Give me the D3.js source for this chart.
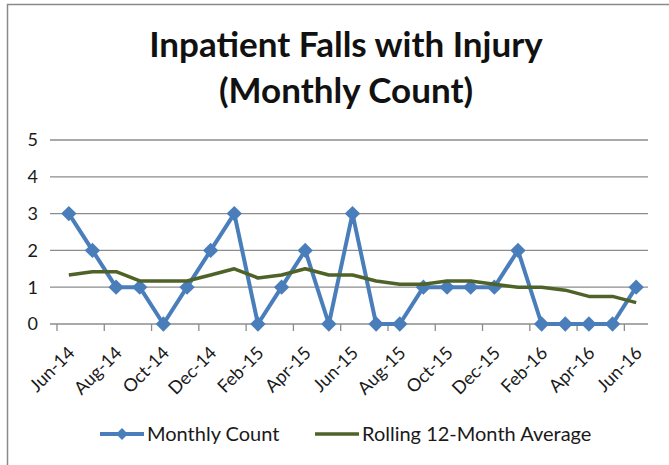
<!DOCTYPE html>
<html>
<head>
<meta charset="utf-8">
<script src="https://cdn.jsdelivr.net/npm/d3@7"></script>
<style>
  body { margin: 0; background: #fff; }
  svg { display: block; font-family: Lato, "Open Sans", sans-serif; }
  .grid line { stroke: #8c8c8c; stroke-width: 1.3; }
  .tick-lab { font-size: 18px; fill: #1a1a1a; }
</style>
</head>
<body>
<svg width="669" height="465"></svg>
<script>
// chart values
const months = ["Jun-14","Jul-14","Aug-14","Sep-14","Oct-14","Nov-14","Dec-14",
  "Jan-15","Feb-15","Mar-15","Apr-15","May-15","Jun-15","Jul-15","Aug-15","Sep-15",
  "Oct-15","Nov-15","Dec-15","Jan-16","Feb-16","Mar-16","Apr-16","May-16","Jun-16"];
const monthly = [3,2,1,1,0,1,2,3,0,1,2,0,3,0,0,1,1,1,1,2,0,0,0,0,1];
const rolling = [1.33,1.42,1.42,1.17,1.17,1.17,1.33,1.5,1.25,1.33,1.5,1.33,
  1.33,1.17,1.08,1.08,1.17,1.17,1.08,1.0,1.0,0.92,0.75,0.75,0.58];
const yTicks = [0,1,2,3,4,5];
const xLabels = months.filter((d, i) => i % 2 === 0);
const titleLines = ["Inpatient Falls with Injury", "(Monthly Count)"];
const seriesNames = ["Monthly Count", "Rolling 12-Month Average"];

const svg = d3.select("svg");

// outer chart border (only top & left are inside the frame)
svg.append("rect")
    .attr("x", 7.5).attr("y", 4.5)
    .attr("width", 700).attr("height", 500)
    .attr("fill", "none")
    .attr("stroke", "#8a8a8a")
    .attr("stroke-width", 1.5);

const x = d3.scaleBand().domain(months).range([57, 648]);
const y = d3.scaleLinear().domain([0, 5]).range([324, 140]);
const cx = d => x(d) + x.bandwidth() / 2;

// title
svg.append("g").selectAll("text")
  .data(titleLines)
  .join("text")
    .attr("x", 346)
    .attr("y", (d, i) => 57 + i * 46)
    .attr("text-anchor", "middle")
    .attr("font-size", 35)
    .attr("font-weight", "bold")
    .attr("fill", "#111")
    .text(d => d);

// gridlines + y labels
const grid = svg.append("g").attr("class", "grid");
grid.selectAll("line")
  .data(yTicks)
  .join("line")
    .attr("x1", 50).attr("x2", 648)
    .attr("y1", d => y(d)).attr("y2", d => y(d));

svg.append("g").selectAll("text")
  .data(yTicks)
  .join("text")
    .attr("class", "tick-lab")
    .attr("x", 38)
    .attr("y", d => y(d))
    .attr("dy", "0.36em")
    .attr("text-anchor", "end")
    .text(d => d);

// x tick marks every 2 months, at category edges
svg.append("g").attr("class", "grid").selectAll("line")
  .data(xLabels)
  .join("line")
    .attr("x1", d => x(d)).attr("x2", d => x(d))
    .attr("y1", 324).attr("y2", 331);

svg.append("g").selectAll("text")
  .data(xLabels)
  .join("text")
    .attr("class", "tick-lab")
    .attr("text-anchor", "end")
    .attr("transform", d => `translate(${cx(d) + 7},354) rotate(-45)`)
    .text(d => d);

// series
const line = d3.line().x((d, i) => cx(months[i])).y(d => y(d));

svg.append("path")
    .datum(monthly)
    .attr("fill", "none")
    .attr("stroke", "#4a7ebb")
    .attr("stroke-width", 4)
    .attr("stroke-linejoin", "round")
    .attr("d", line);

const diamond = d3.symbol().type(d3.symbolDiamond2).size(150);
svg.append("g").selectAll("path")
  .data(monthly)
  .join("path")
    .attr("transform", (d, i) => `translate(${cx(months[i])},${y(d)})`)
    .attr("d", diamond)
    .attr("fill", "#4a7ebb");

svg.append("path")
    .datum(rolling)
    .attr("fill", "none")
    .attr("stroke", "#4f6228")
    .attr("stroke-width", 3.5)
    .attr("stroke-linejoin", "round")
    .attr("d", line);

// legend
const legX = [100, 315];
const leg = svg.append("g").selectAll("g")
  .data(seriesNames)
  .join("g")
    .attr("transform", (d, i) => `translate(${legX[i]},434)`);

leg.append("line")
    .attr("x1", 0).attr("x2", 44)
    .attr("stroke", (d, i) => i === 0 ? "#4a7ebb" : "#4f6228")
    .attr("stroke-width", (d, i) => i === 0 ? 4 : 3.5);

leg.filter((d, i) => i === 0).append("path")
    .attr("transform", "translate(22,0)")
    .attr("d", d3.symbol().type(d3.symbolDiamond2).size(90))
    .attr("fill", "#4a7ebb");

leg.append("text")
    .attr("x", 47)
    .attr("dy", "0.36em")
    .attr("font-size", 20)
    .attr("fill", "#1a1a1a")
    .text(d => d);
</script>
</body>
</html>
